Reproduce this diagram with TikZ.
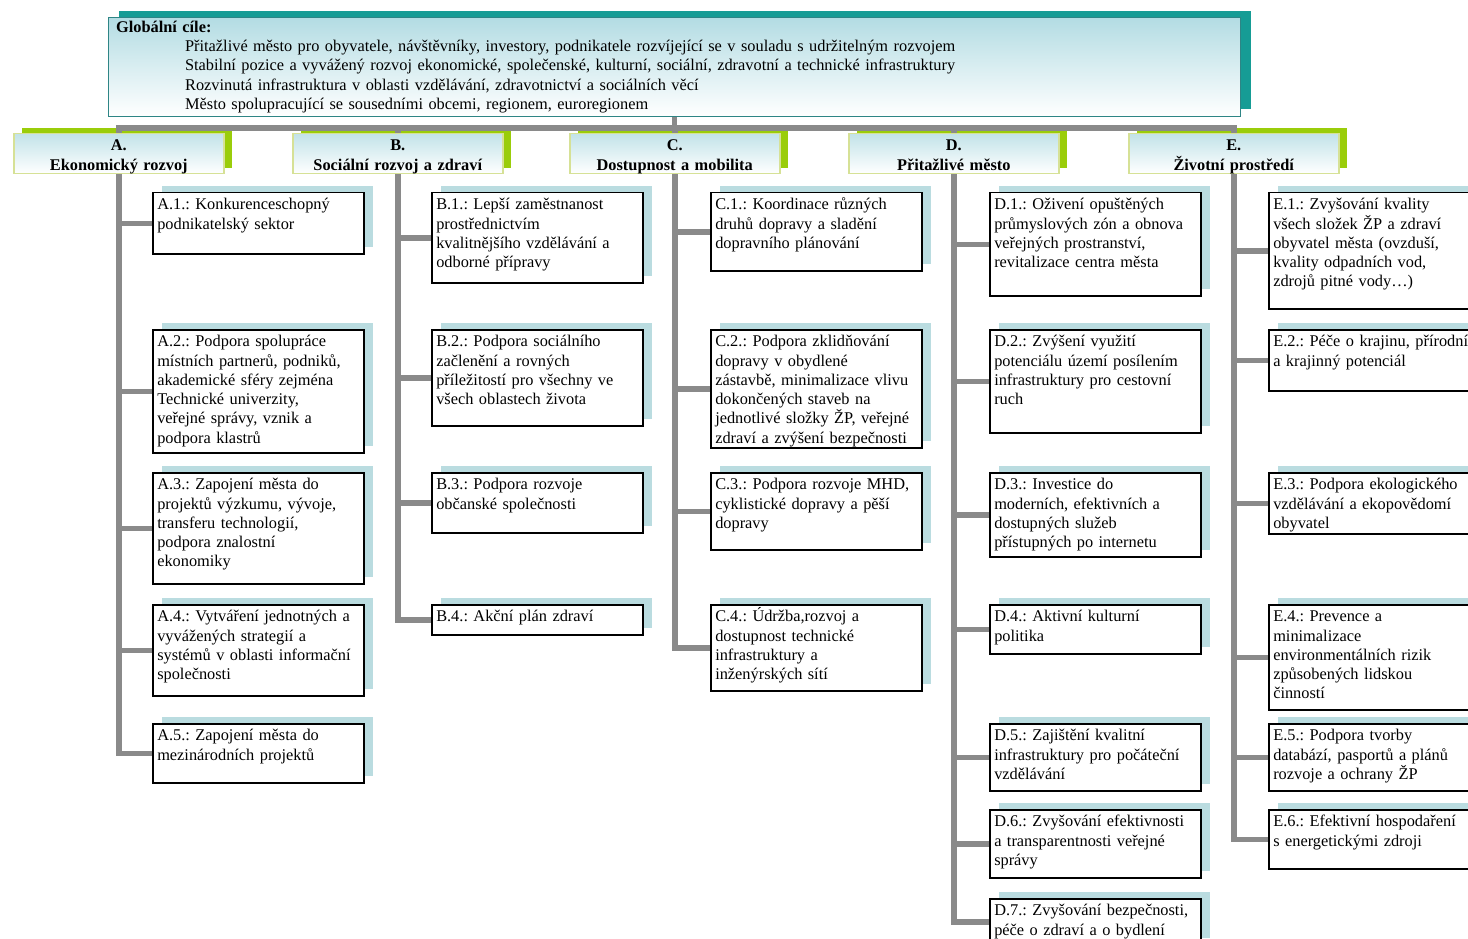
\documentclass[tikz,border=0pt]{standalone}
\usepackage{fontspec}
\setmainfont{Liberation Serif}
\definecolor{SPTeal}{HTML}{169C95}
\definecolor{SPTealDark}{HTML}{2E8585}
\definecolor{SPSky}{HTML}{B3DCE3}
\definecolor{SPLime}{HTML}{9ACD0A}
\definecolor{SPPale}{HTML}{D6E196}
\definecolor{SPShadow}{HTML}{BADCE0}
\definecolor{SPGray}{HTML}{8A8A8A}
\usetikzlibrary{positioning,shadows}
\newcommand\spsize{\fontsize{16.35}{19.3}\selectfont\frenchspacing}

\begin{document}
\begin{tikzpicture}[x=1pt,y=-1pt,font=\spsize,
    cile/.style={anchor=north west, draw=SPTealDark, line width=1.2pt, top color=SPSky, bottom color=white,
      text width=1117pt, inner xsep=7.5pt, minimum height=96pt, align=left,
      drop shadow={shadow xshift=10pt,shadow yshift=7pt,opacity=1,fill=SPTeal}},
    oblast/.style={anchor=north west, draw=SPPale, line width=1.5pt, top color=SPSky!80, bottom color=white,
      text width=206pt, inner xsep=2pt, inner ysep=1pt, text height=16pt, text depth=22pt, align=center,
      font=\spsize\bfseries,
      drop shadow={shadow xshift=8pt,shadow yshift=6pt,opacity=1,fill=SPLime}},
    opatreni/.style={anchor=north west, draw=black, line width=1.5pt, fill=white,
      text width=202pt, inner xsep=4.5pt, inner ysep=3pt, text height=14pt, text depth=#1, align=left,
      drop shadow={shadow xshift=9pt,shadow yshift=7pt,opacity=1,fill=SPShadow}},
    spoj/.style={draw=SPGray, line width=5.5pt}]
  \clip (0,0) rectangle (1468,939);

  % global goals
  \node[cile] (g) at (108,17) {\textbf{Globální cíle:}\\
    \hspace*{69pt}Přitažlivé město pro obyvatele, návštěvníky, investory, podnikatele rozvíjející se v souladu s udržitelným rozvojem\\
    \hspace*{69pt}Stabilní pozice a vyvážený rozvoj ekonomické, společenské, kulturní, sociální, zdravotní a technické infrastruktury\\
    \hspace*{69pt}Rozvinutá infrastruktura v oblasti vzdělávání, zdravotnictví a sociálních věcí\\
    \hspace*{69pt}Město spolupracující se sousedními obcemi, regionem, euroregionem};

  % areas
  \node[oblast] (a) at (13,133) {A.\\Ekonomický rozvoj};
  \node[oblast] (b) at (292,133) {B.\\Sociální rozvoj a zdraví};
  \node[oblast] (c) at (569,133) {C.\\Dostupnost a mobilita};
  \node[oblast] (d) at (848,133) {D.\\Přitažlivé město};
  \node[oblast] (e) at (1128,133) {E.\\Životní prostředí};

  % A
  \node[opatreni=41pt] (a1) at (152,192) {A.1.: Konkurenceschopný\\podnikatelský sektor};
  \node[opatreni=103pt] (a2) at (152,329) {A.2.: Podpora spolupráce\\místních partnerů, podniků,\\akademické sféry zejména\\Technické univerzity,\\veřejné správy, vznik a\\podpora klastrů};
  \node[opatreni=91pt] (a3) at (152,472) {A.3.: Zapojení města do\\projektů výzkumu, vývoje,\\transferu technologií,\\podpora znalostní\\ekonomiky};
  \node[opatreni=71pt] (a4) at (152,604) {A.4.: Vytváření jednotných a\\vyvážených strategií a\\systémů v oblasti informační\\společnosti};
  \node[opatreni=39pt] (a5) at (152,723) {A.5.: Zapojení města do\\mezinárodních projektů};

  % B
  \node[opatreni=70pt] (b1) at (431,192) {B.1.: Lepší zaměstnanost\\prostřednictvím\\kvalitnějšího vzdělávání a\\odborné přípravy};
  \node[opatreni=76pt] (b2) at (431,329) {B.2.: Podpora sociálního\\začlenění a rovných\\příležitostí pro všechny ve\\všech oblastech života};
  \node[opatreni=40pt] (b3) at (431,472) {B.3.: Podpora rozvoje\\občanské společnosti};
  \node[opatreni=10pt] (b4) at (431,604) {B.4.: Akční plán zdraví};

  % C
  \node[opatreni=58pt] (c1) at (710,192) {C.1.: Koordinace různých\\druhů dopravy a sladění\\dopravního plánování};
  \node[opatreni=98pt] (c2) at (710,329) {C.2.: Podpora zklidňování\\dopravy v obydlené\\zástavbě, minimalizace vlivu\\dokončených staveb na\\jednotlivé složky ŽP, veřejné\\zdraví a zvýšení bezpečnosti};
  \node[opatreni=57pt] (c3) at (710,472) {C.3.: Podpora rozvoje MHD,\\cyklistické dopravy a pěší\\dopravy};
  \node[opatreni=66pt] (c4) at (710,604) {C.4.: Údržba,rozvoj a\\dostupnost technické\\infrastruktury a\\inženýrských sítí};

  % D
  \node[opatreni=83pt] (d1) at (989,192) {D.1.: Oživení opuštěných\\průmyslových zón a obnova\\veřejných prostranství,\\revitalizace centra města};
  \node[opatreni=83pt] (d2) at (989,329) {D.2.: Zvýšení využití\\potenciálu území posílením\\infrastruktury pro cestovní\\ruch};
  \node[opatreni=64pt] (d3) at (989,472) {D.3.: Investice do\\moderních, efektivních a\\dostupných služeb\\přístupných po internetu};
  \node[opatreni=29pt] (d4) at (989,604) {D.4.: Aktivní kulturní\\politika};
  \node[opatreni=47pt] (d5) at (989,723) {D.5.: Zajištění kvalitní\\infrastruktury pro počáteční\\vzdělávání};
  \node[opatreni=48pt] (d6) at (989,809) {D.6.: Zvyšování efektivnosti\\a transparentnosti veřejné\\správy};
  \node[opatreni=26pt] (d7) at (989,898) {D.7.: Zvyšování bezpečnosti,\\péče o zdraví a o bydlení};

  % E
  \node[opatreni=96pt] (e1) at (1268,192) {E.1.: Zvyšování kvality\\všech složek ŽP a zdraví\\obyvatel města (ovzduší,\\kvality odpadních vod,\\zdrojů pitné vody…)};
  \node[opatreni=41pt] (e2) at (1268,329) {E.2.: Péče o krajinu, přírodní\\a krajinný potenciál};
  \node[opatreni=41pt] (e3) at (1268,472) {E.3.: Podpora ekologického\\vzdělávání a ekopovědomí\\obyvatel};
  \node[opatreni=85pt] (e4) at (1268,604) {E.4.: Prevence a\\minimalizace\\environmentálních rizik\\způsobených lidskou\\činností};
  \node[opatreni=47pt] (e5) at (1268,723) {E.5.: Podpora tvorby\\databází, pasportů a plánů\\rozvoje a ochrany ŽP};
  \node[opatreni=39pt] (e6) at (1268,809) {E.6.: Efektivní hospodaření\\s energetickými zdroji};

  % connectors
  \foreach \o in {a,b,c,d,e}
    \draw[spoj] (g.south) -- ++(0,11) -| (\o.north);
  \foreach \o/\n in {a/5,b/4,c/4,d/7,e/6}
    \foreach \i in {1,...,\n}
      \draw[spoj] (\o.south) |- (\o\i.west);
\end{tikzpicture}
\end{document}
